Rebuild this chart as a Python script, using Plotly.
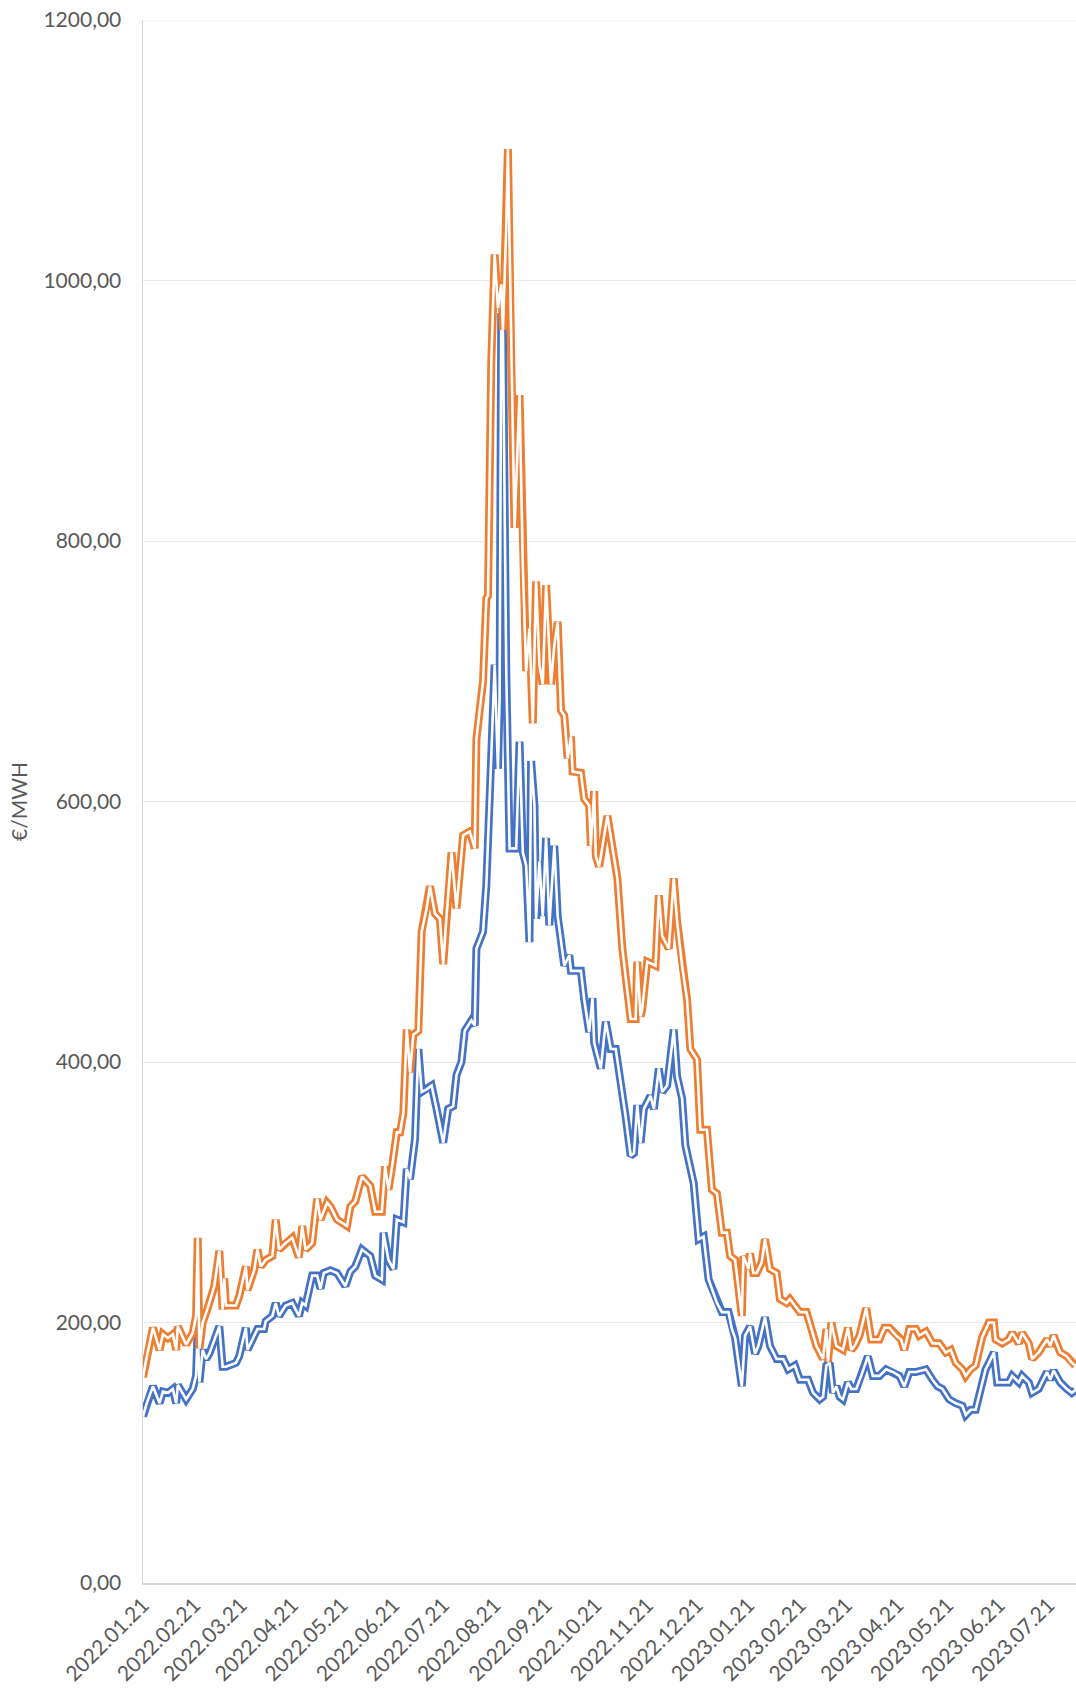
import pandas as pd
import plotly.graph_objects as go

START_DATE = "2022-01-21"

# day offsets from START_DATE and values (€/MWh)
BLUE_DAYS = [0, 2, 6, 10, 12, 15, 18, 20, 21, 26, 30, 32, 33, 34, 36, 38, 40, 46, 48, 50, 56, 58, 62, 63,
             69, 73, 74, 78, 80, 82, 86, 90, 94, 96, 98, 102, 105, 107, 109, 113, 117, 122, 125, 128, 132,
             137, 140, 144, 145, 148, 151, 153, 157, 159, 161, 164, 166, 168, 171, 174, 177, 181, 184, 187,
             189, 192, 194, 198, 200, 201, 205, 207, 210, 212, 214, 215, 216, 217, 219, 221, 225, 227, 229,
             231, 233, 234, 236, 237, 239, 241, 243, 245, 248, 250, 254, 257, 258, 264, 266, 269, 271, 272,
             276, 279, 282, 285, 291, 294, 296, 298, 300, 302, 306, 308, 311, 313, 316, 320, 322, 325, 327,
             332, 335, 338, 341, 346, 349, 353, 355, 357, 361, 363, 366, 369, 371, 375, 378, 382, 386, 389,
             393, 396, 401, 404, 408, 410, 412, 414, 416, 418, 420, 422, 425, 427, 430, 433, 437, 440, 444,
             448, 452, 456, 459, 462, 466, 472, 476, 479, 482, 486, 490, 494, 496, 499, 502, 505, 508, 510,
             513, 515, 518, 522, 524, 528, 530, 534, 536, 540, 545, 547, 549, 553, 557, 560, 562]
BLUE_VALUES = [128, 137, 151, 138, 147, 146, 149, 138, 152, 141, 149, 159, 195, 154, 179, 172, 176, 197, 166,
               166, 169, 174, 196, 179, 195, 195, 201, 205, 215, 205, 213, 215, 205, 215, 213, 236, 236, 226,
               238, 240, 238, 228, 239, 243, 256, 251, 236, 233, 269, 248, 241, 279, 277, 318, 310, 341, 410,
               377, 379, 382, 364, 338, 364, 366, 390, 400, 424, 432, 428, 487, 500, 536, 636, 705, 625, 680,
               975, 960, 700, 564, 564, 646, 561, 551, 492, 631, 597, 510, 554, 512, 572, 505, 566, 512, 474,
               482, 470, 470, 448, 423, 449, 415, 395, 431, 410, 410, 358, 328, 330, 367, 338, 364, 374, 364,
               395, 377, 382, 425, 389, 372, 336, 307, 264, 266, 233, 215, 208, 208, 195, 188, 151, 190, 197,
               176, 182, 204, 182, 172, 172, 164, 167, 156, 156, 146, 141, 143, 167, 169, 146, 151, 143, 141,
               154, 149, 149, 159, 174, 159, 159, 164, 162, 159, 151, 162, 162, 164, 156, 151, 149, 141, 138,
               136, 129, 133, 133, 149, 164, 169, 177, 154, 154, 154, 159, 154, 159, 154, 146, 149, 162, 156,
               163, 154, 149, 146, 148]

ORANGE_DAYS = [0, 2, 6, 10, 12, 15, 18, 20, 21, 26, 30, 32, 33, 34, 36, 39, 43, 46, 48, 49, 50, 56, 58, 62,
               63, 67, 69, 71, 74, 78, 80, 82, 86, 90, 94, 96, 98, 102, 105, 107, 111, 113, 117, 123, 125,
               128, 132, 137, 140, 144, 146, 148, 150, 153, 155, 157, 159, 161, 163, 166, 168, 171, 173, 176,
               179, 181, 183, 186, 189, 193, 197, 200, 201, 205, 207, 208, 210, 212, 214, 216, 217, 219, 220,
               222, 224, 227, 229, 231, 233, 235, 237, 239, 241, 243, 246, 248, 250, 252, 254, 256, 258, 259,
               264, 266, 269, 270, 272, 273, 275, 280, 286, 289, 294, 297, 298, 300, 301, 304, 309, 311, 313,
               317, 320, 322, 325, 328, 330, 334, 336, 340, 343, 346, 349, 352, 354, 357, 361, 362, 365, 366,
               368, 370, 373, 375, 378, 382, 384, 388, 390, 393, 396, 400, 403, 406, 410, 412, 413, 415, 418,
               422, 425, 427, 429, 432, 436, 439, 444, 447, 450, 454, 457, 459, 462, 466, 468, 472, 476, 480,
               484, 487, 490, 494, 496, 499, 502, 506, 510, 513, 514, 518, 522, 524, 528, 530, 534, 536, 540,
               545, 547, 549, 553, 557, 560, 562]
ORANGE_VALUES = [158, 172, 196, 179, 191, 188, 191, 179, 197, 183, 192, 205, 265, 180, 200, 211, 228, 255, 210,
                 234, 213, 213, 220, 243, 225, 240, 256, 243, 248, 251, 279, 256, 261, 265, 250, 274, 256, 261,
                 295, 279, 292, 289, 279, 274, 289, 293, 312, 305, 285, 285, 320, 302, 318, 346, 346, 361, 425,
                 392, 421, 424, 500, 518, 535, 514, 510, 475, 512, 561, 518, 574, 577, 564, 648, 692, 756, 758,
                 938, 1020, 979, 997, 962, 1041, 1101, 938, 810, 912, 780, 700, 733, 660, 769, 705, 690, 766,
                 690, 720, 738, 670, 666, 633, 650, 623, 622, 602, 597, 566, 608, 558, 550, 589, 541, 487, 433,
                 433, 477, 435, 441, 477, 474, 528, 497, 487, 541, 508, 474, 448, 410, 402, 348, 348, 302, 299,
                 269, 269, 251, 248, 205, 251, 241, 253, 238, 238, 246, 264, 241, 238, 218, 215, 218, 213, 208,
                 208, 195, 182, 172, 195, 170, 200, 182, 179, 196, 179, 182, 190, 211, 187, 187, 196, 196, 190,
                 187, 179, 195, 195, 190, 193, 184, 184, 177, 179, 169, 164, 159, 164, 167, 189, 200, 200, 187,
                 184, 187, 192, 184, 192, 184, 172, 177, 187, 182, 190, 177, 174, 169, 167]

X_END = "2023-08-06 12:00"
TICK_DATES = ["2022-01-21", "2022-02-21", "2022-03-21", "2022-04-21", "2022-05-21", "2022-06-21",
              "2022-07-21", "2022-08-21", "2022-09-21", "2022-10-21", "2022-11-21", "2022-12-21",
              "2023-01-21", "2023-02-21", "2023-03-21", "2023-04-21", "2023-05-21", "2023-06-21",
              "2023-07-21"]
TICK_LABELS = ["2022.01.21", "2022.02.21", "2022.03.21", "2022.04.21", "2022.05.21", "2022.06.21",
               "2022.07.21", "2022.08.21", "2022.09.21", "2022.10.21", "2022.11.21", "2022.12.21",
               "2023.01.21", "2023.02.21", "2023.03.21", "2023.04.21", "2023.05.21", "2023.06.21",
               "2023.07.21"]
Y_TICKS = [0, 200, 400, 600, 800, 1000, 1200]
Y_LABELS = ["0,00", "200,00", "400,00", "600,00", "800,00", "1000,00", "1200,00"]
Y_MAX = 1200
Y_TITLE = "€/MWH"

BLUE = "#4472C4"
ORANGE = "#ED7D31"
FONT = "Lato"
GREY = "#595959"
GRID = "#e8e8e8"

start = pd.Timestamp(START_DATE)
blue_x = [start + pd.Timedelta(days=d) for d in BLUE_DAYS]
orange_x = [start + pd.Timedelta(days=d) for d in ORANGE_DAYS]

fig = go.Figure()
for xs, ys, col in [(blue_x, BLUE_VALUES, BLUE), (orange_x, ORANGE_VALUES, ORANGE)]:
    fig.add_trace(go.Scatter(x=xs, y=ys, mode="lines", line=dict(color=col, width=8),
                             showlegend=False, hoverinfo="skip"))
    fig.add_trace(go.Scatter(x=xs, y=ys, mode="lines", line=dict(color="white", width=2.6),
                             showlegend=False, hoverinfo="skip"))

# plotly drops the gridline at the very top of the range; draw it as a shape
fig.add_shape(type="line", xref="paper", yref="y", x0=0, x1=1, y0=Y_MAX, y1=Y_MAX,
              line=dict(color=GRID, width=1), layer="below")

fig.update_layout(
    width=1076, height=1695,
    margin=dict(l=143, r=0, t=20, b=112),
    paper_bgcolor="white", plot_bgcolor="white",
    font=dict(family=FONT, size=21, color=GREY),
    showlegend=False,
)
fig.update_xaxes(
    type="date", range=[START_DATE, X_END],
    tickvals=TICK_DATES, ticktext=TICK_LABELS, tickangle=-45,
    showgrid=False, showline=True, linecolor="#d9d9d9", linewidth=1.5,
    ticks="", zeroline=False, automargin=False, ticklabeloverflow="allow",
    tickfont=dict(family=FONT, size=21, color=GREY),
)
fig.update_yaxes(
    range=[0, Y_MAX], tickvals=Y_TICKS, ticktext=Y_LABELS,
    showgrid=True, gridcolor=GRID, gridwidth=1,
    showline=True, linecolor="#d9d9d9", linewidth=1.5,
    ticks="", zeroline=False, automargin=False, ticklabelstandoff=16,
    ticklabeloverflow="allow",
    tickfont=dict(family=FONT, size=21, color=GREY),
    title=dict(text=Y_TITLE, font=dict(family=FONT, size=21, color=GREY), standoff=10),
)

# remove the page's default 8px body margin so the figure fills the window exactly
fig.write_html(
    "out.html",
    config={"displayModeBar": False, "staticPlot": True},
    post_script="document.body.style.margin='0';document.body.style.overflow='hidden';",
)
